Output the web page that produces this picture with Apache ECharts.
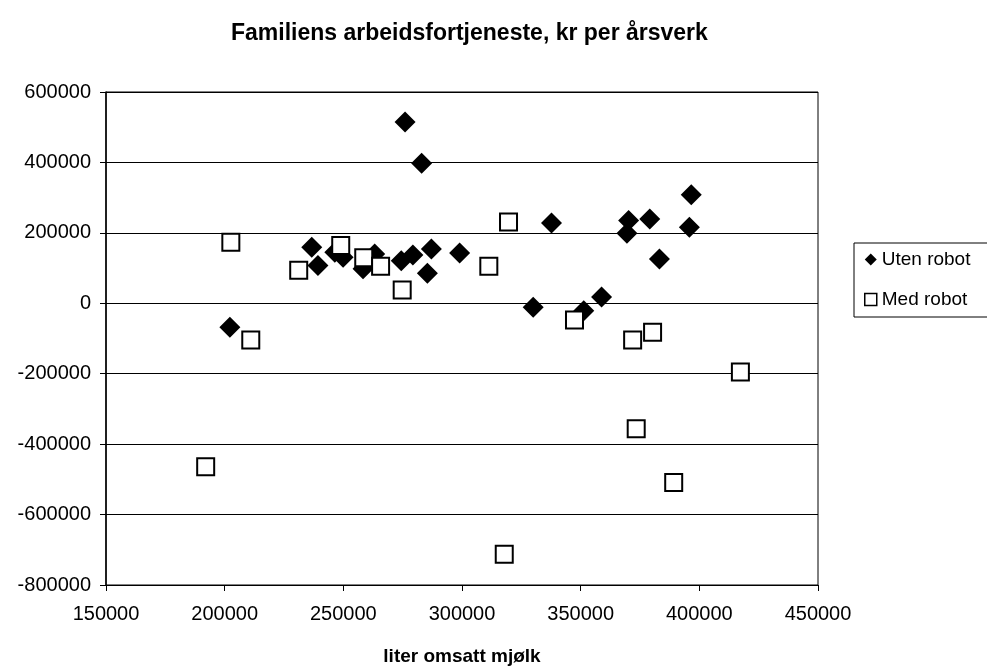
<!DOCTYPE html>
<html>
<head>
<meta charset="utf-8">
<script src="https://cdn.jsdelivr.net/npm/echarts@6.0.0/dist/echarts.min.js"></script>
<style>
  html, body { margin: 0; padding: 0; background: #fff; }
  #chart { width: 987px; height: 671px; }
</style>
</head>
<body>
<div id="chart"></div>
<script>
// Uten robot (diamonds)
var utenX = [276000, 283000, 236700, 239300, 246400, 249900, 258300, 263200, 274400, 279300, 287100, 285400,
  299000, 202200, 337700, 330000, 351300, 358800, 370200, 369500, 379100, 383200, 396600, 395800];
var utenY = [515000, 398000, 159000, 107000, 145000, 131000, 98000, 140000, 121000, 137000, 154000, 85000,
  143000, -68000, 228000, -11000, -21000, 18000, 235000, 199000, 239000, 126000, 308000, 216000];

// Med robot (squares)
var medX = [202600, 231200, 248900, 258600, 265700, 274800, 311300, 211000, 319600, 347400, 371900, 380300,
  417300, 373400, 192000, 389200, 317800];
var medY = [173500, 94000, 164000, 129000, 105000, 38000, 105000, -104000, 231000, -47500, -104000, -82500,
  -195000, -356000, -464000, -509000, -713000];

var font = 'Liberation Sans, Arial, sans-serif';

function pairs(xs, ys) {
  var out = [];
  for (var i = 0; i < xs.length; i++) {
    out.push([xs[i], ys[i]]);
  }
  return out;
}

var chart = echarts.init(document.getElementById('chart'));
var option = {
  animation: false,
  backgroundColor: '#fff',
  title: {
    text: 'Familiens arbeidsfortjeneste, kr per årsverk',
    left: 226,
    top: 17,
    textStyle: { fontFamily: font, fontSize: 23, fontWeight: 'bold', color: '#000' }
  },
  legend: {
    orient: 'vertical',
    left: 854,
    top: 243,
    padding: [7, 80, 8, 10],
    itemGap: 21,
    itemWidth: 12,
    itemHeight: 12,
    borderColor: '#000',
    borderWidth: 1,
    borderRadius: 0,
    textStyle: { fontFamily: font, fontSize: 19, color: '#000' },
    data: [
      { name: 'Uten robot', icon: 'diamond', itemStyle: { color: '#000' } },
      { name: 'Med robot', icon: 'rect', itemStyle: { color: '#fff', borderColor: '#000', borderWidth: 1.5 } }
    ]
  },
  grid: {
    left: 106,
    right: 169,
    top: 92,
    bottom: 85,
    show: true,
    borderColor: '#000',
    borderWidth: 1,
    containLabel: false
  },
  xAxis: {
    type: 'value',
    min: 150000,
    max: 450000,
    interval: 50000,
    name: 'liter omsatt mjølk',
    nameLocation: 'middle',
    nameGap: 62,
    nameTextStyle: { fontFamily: font, fontSize: 19, fontWeight: 'bold', color: '#000' },
    axisLine: { show: true, onZero: false, lineStyle: { color: '#000', width: 1 } },
    axisTick: { show: true, length: 6, inside: false, lineStyle: { color: '#000' } },
    axisLabel: { fontFamily: font, fontSize: 20, color: '#000', margin: 19, formatter: function (v) { return String(v); } },
    splitLine: { show: false }
  },
  yAxis: {
    type: 'value',
    min: -800000,
    max: 600000,
    interval: 200000,
    axisLine: { show: true, onZero: false, lineStyle: { color: '#000', width: 1.5 } },
    axisTick: { show: true, length: 6, inside: false, lineStyle: { color: '#000' } },
    axisLabel: { fontFamily: font, fontSize: 20, color: '#000', margin: 15, formatter: function (v) { return String(v); } },
    splitLine: { show: true, lineStyle: { color: '#000', width: 1 } }
  },
  series: [
    {
      name: 'Uten robot',
      type: 'scatter',
      symbol: 'diamond',
      symbolSize: 21,
      itemStyle: { color: '#000', opacity: 1 },
      data: pairs(utenX, utenY)
    },
    {
      name: 'Med robot',
      type: 'scatter',
      symbol: 'rect',
      symbolSize: 17,
      itemStyle: { color: '#fff', borderColor: '#000', borderWidth: 2, opacity: 1 },
      data: pairs(medX, medY)
    }
  ]
};
chart.setOption(option);
</script>
</body>
</html>
